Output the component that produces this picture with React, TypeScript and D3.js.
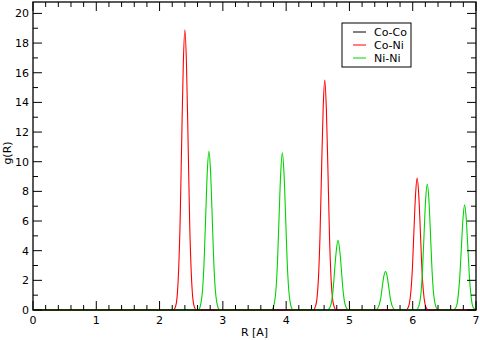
import React from "react";
import * as d3 from "d3";

// g(R) pair distribution curves
const coCo: [number, number][] = [[0, 0], [7, 0]];

const coNi: [number, number][] = [
  [0, 0], [2.22, 0], [2.25, 0.2], [2.275, 0.8], [2.3, 2.6], [2.325, 6.0], [2.35, 11.5], [2.375, 16.6], [2.4, 18.9],
  [2.425, 16.6], [2.45, 11.5], [2.475, 6.0], [2.5, 2.6], [2.525, 0.8], [2.55, 0.2], [2.58, 0],
  [4.43, 0], [4.46, 0.2], [4.485, 0.7], [4.51, 2.1], [4.535, 5.0], [4.56, 9.5], [4.585, 13.6], [4.61, 15.5],
  [4.635, 13.6], [4.66, 9.5], [4.685, 5.0], [4.71, 2.1], [4.735, 0.7], [4.76, 0.2], [4.79, 0],
  [5.89, 0], [5.92, 0.1], [5.945, 0.4], [5.97, 1.2], [5.995, 2.8], [6.02, 5.4], [6.045, 7.8], [6.07, 8.9],
  [6.095, 7.8], [6.12, 5.4], [6.145, 2.8], [6.17, 1.2], [6.195, 0.4], [6.22, 0.1], [6.25, 0], [7, 0],
];

const niNi: [number, number][] = [
  [0, 0], [2.6, 0], [2.63, 0.1], [2.655, 0.5], [2.68, 1.4], [2.705, 3.4], [2.73, 6.5], [2.755, 9.4], [2.78, 10.7],
  [2.805, 9.4], [2.83, 6.5], [2.855, 3.4], [2.88, 1.4], [2.905, 0.5], [2.93, 0.1], [2.96, 0],
  [3.76, 0], [3.79, 0.1], [3.815, 0.5], [3.84, 1.4], [3.865, 3.4], [3.89, 6.5], [3.915, 9.3], [3.94, 10.6],
  [3.965, 9.3], [3.99, 6.5], [4.015, 3.4], [4.04, 1.4], [4.065, 0.5], [4.09, 0.1], [4.12, 0],
  [4.64, 0], [4.67, 0.05], [4.695, 0.2], [4.72, 0.6], [4.745, 1.5], [4.77, 2.9], [4.795, 4.1], [4.82, 4.7],
  [4.845, 4.1], [4.87, 2.9], [4.895, 1.5], [4.92, 0.6], [4.945, 0.2], [4.97, 0.05], [5.0, 0],
  [5.39, 0], [5.42, 0.03], [5.445, 0.1], [5.47, 0.35], [5.495, 0.8], [5.52, 1.6], [5.545, 2.3], [5.57, 2.6],
  [5.595, 2.3], [5.62, 1.6], [5.645, 0.8], [5.67, 0.35], [5.695, 0.1], [5.72, 0.03], [5.75, 0],
  [6.05, 0], [6.08, 0.1], [6.105, 0.4], [6.13, 1.1], [6.155, 2.7], [6.18, 5.2], [6.205, 7.5], [6.23, 8.5],
  [6.255, 7.5], [6.28, 5.2], [6.305, 2.7], [6.33, 1.1], [6.355, 0.4], [6.38, 0.1], [6.41, 0],
  [6.64, 0], [6.67, 0.1], [6.695, 0.3], [6.72, 1.0], [6.745, 2.3], [6.77, 4.3], [6.795, 6.2], [6.82, 7.1],
  [6.845, 6.2], [6.87, 4.3], [6.895, 2.3], [6.92, 1.0], [6.945, 0.3], [6.97, 0.1], [7, 0],
];

const seriesNames = ["Co-Co", "Co-Ni", "Ni-Ni"];
const seriesColors = ["#000000", "#ff0000", "#00d400"];
const xTicks = [0, 1, 2, 3, 4, 5, 6, 7];
const yTicks = [0, 2, 4, 6, 8, 10, 12, 14, 16, 18, 20];

const width = 480, height = 340;
const left = 33, right = 476, top = 2, bottom = 310;
const font = "DejaVu Sans, sans-serif";

export default function App() {
  const x = d3.scaleLinear().domain([0, 7]).range([left, right]);
  const y = d3.scaleLinear().domain([0, 20.77]).range([bottom, top]);
  const line = d3.line<[number, number]>().x(d => x(d[0])).y(d => y(d[1])).curve(d3.curveMonotoneX);
  const data = [coCo, coNi, niNi];

  const xMinor = d3.range(0, 7.001, 0.2).filter(v => Math.abs(v - Math.round(v)) > 0.01);
  const yMinor = d3.range(1, 20, 2);

  return (
    <svg width={width} height={height} style={{ position: "absolute", left: 0, top: 0, background: "#fff" }}
      fontFamily={font}>
      <g>
        {data.map((d, i) => (
          <path key={i} d={line(d) || ""} fill="none" stroke={seriesColors[i]} strokeWidth={1.1} />
        ))}
      </g>
      <rect x={left} y={top} width={right - left} height={bottom - top} fill="none" stroke="#000" strokeWidth={1.3} />
      <g stroke="#000" strokeWidth={1}>
        {xTicks.map(t => (
          <g key={"xt" + t}>
            <line x1={x(t)} x2={x(t)} y1={bottom} y2={bottom - 9} />
            <line x1={x(t)} x2={x(t)} y1={top} y2={top + 9} />
          </g>
        ))}
        {xMinor.map(t => (
          <g key={"xm" + t}>
            <line x1={x(t)} x2={x(t)} y1={bottom} y2={bottom - 5} />
            <line x1={x(t)} x2={x(t)} y1={top} y2={top + 5} />
          </g>
        ))}
        {yTicks.map(t => (
          <g key={"yt" + t}>
            <line x1={left} x2={left + 9} y1={y(t)} y2={y(t)} />
            <line x1={right} x2={right - 9} y1={y(t)} y2={y(t)} />
          </g>
        ))}
        {yMinor.map(t => (
          <g key={"ym" + t}>
            <line x1={left} x2={left + 5} y1={y(t)} y2={y(t)} />
            <line x1={right} x2={right - 5} y1={y(t)} y2={y(t)} />
          </g>
        ))}
      </g>
      <g fontSize={11} fill="#000">
        {xTicks.map(t => (
          <text key={"xl" + t} x={x(t)} y={bottom + 14} textAnchor="middle">{t}</text>
        ))}
        {yTicks.map(t => (
          <text key={"yl" + t} x={left - 4} y={y(t) + 4} textAnchor="end">{t}</text>
        ))}
        <text x={(left + right) / 2} y={336} textAnchor="middle">R [A]</text>
        <text transform={`translate(11,153) rotate(-90)`} textAnchor="middle">g(R)</text>
      </g>
      <g>
        <rect x={342} y={23} width={69} height={44} fill="#fff" stroke="#000" strokeWidth={1} />
        {seriesNames.map((n, i) => (
          <g key={n} transform={`translate(0,${32 + i * 13})`}>
            <line x1={353} x2={366} y1={0} y2={0} stroke={seriesColors[i]} strokeWidth={1} />
            <text x={374} y={4} fontSize={11} fill="#000">{n}</text>
          </g>
        ))}
      </g>
    </svg>
  );
}
